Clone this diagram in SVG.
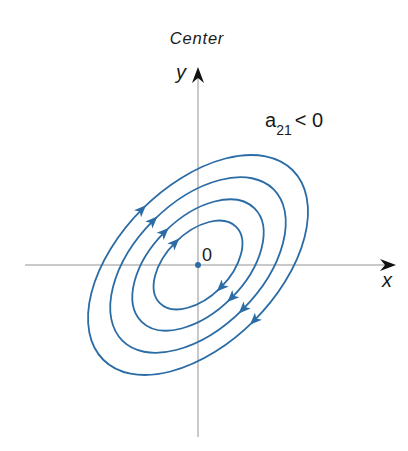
<svg xmlns="http://www.w3.org/2000/svg" width="408" height="451" viewBox="0 0 408 451">
<style>
.axis{stroke:#c9c9c9;stroke-width:2;fill:none}
.orbit{stroke:#2b6ca6;stroke-width:1.8;fill:none}
.ah{fill:#2b6ca6}
.lbl{font-family:"Liberation Sans",Arial,sans-serif;fill:#1a1a1a}
.it{font-style:italic}
</style>
<defs>
<path id="ah" class="ah" d="M5.5,0 L-6.5,-5 L-3.5,0 L-6.5,5 Z"/>
<path id="axh" d="M0,0 L-16,-6 L-11,0 L-16,6 Z" fill="#111"/>
</defs>
<rect width="408" height="451" fill="#fff"/>
<g id="axes">
<line class="axis" x1="25" y1="265" x2="386" y2="265"/>
<line class="axis" x1="198" y1="437" x2="198" y2="76"/>
<use href="#axh" transform="translate(396,265)"/>
<use href="#axh" transform="translate(198,67) rotate(-90)"/>
</g>
<g id="connectors" transform="translate(198,265) rotate(-45)">
<g id="orbit4"><ellipse class="orbit" rx="134" ry="79"/><use href="#ah" transform="translate(0,-79)"/><use href="#ah" transform="translate(0,79) rotate(180)"/></g>
<g id="orbit3"><ellipse class="orbit" rx="107" ry="63"/><use href="#ah" transform="translate(0,-63)"/><use href="#ah" transform="translate(0,63) rotate(180)"/></g>
<g id="orbit2"><ellipse class="orbit" rx="80" ry="47"/><use href="#ah" transform="translate(0,-47)"/><use href="#ah" transform="translate(0,47) rotate(180)"/></g>
<g id="orbit1"><ellipse class="orbit" rx="54" ry="32"/><use href="#ah" transform="translate(0,-32)"/><use href="#ah" transform="translate(0,32) rotate(180)"/></g>
</g>
<g id="origin"><circle cx="198" cy="265" r="3" fill="#2b6ca6"/><text class="lbl" x="202" y="261" font-size="18">0</text></g>
<text id="title" class="lbl it" x="197" y="44" font-size="16.5" letter-spacing="0.8" text-anchor="middle">Center</text>
<text id="ylabel" class="lbl it" x="176" y="79" font-size="20">y</text>
<text id="xlabel" class="lbl it" x="382" y="287" font-size="20">x</text>
<text id="cond" class="lbl" x="265" y="127" font-size="20">a<tspan font-size="14" dy="8">21</tspan><tspan dy="-8" dx="3">&lt; 0</tspan></text>
</svg>
